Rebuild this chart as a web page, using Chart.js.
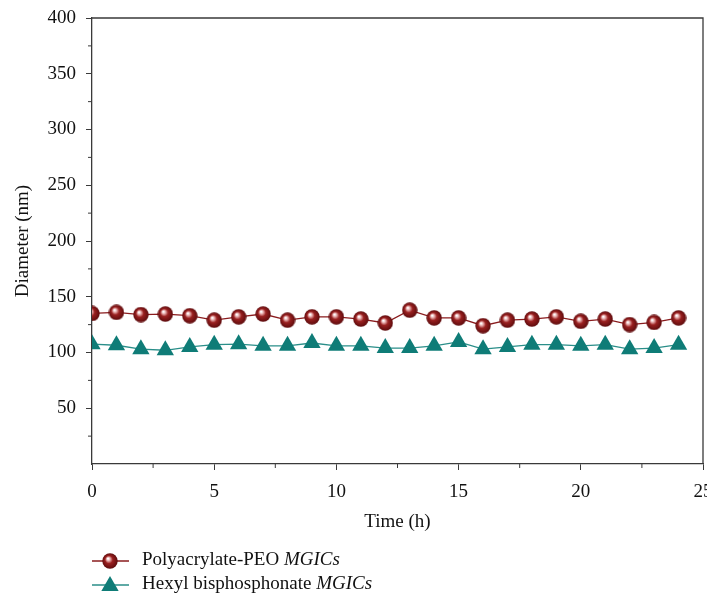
<!DOCTYPE html>
<html>
<head>
<meta charset="utf-8">
<script src="https://cdn.jsdelivr.net/npm/chart.js@4.4.1/dist/chart.umd.min.js"></script>
<style>
  html, body { margin: 0; padding: 0; background: #fff; overflow: hidden; }
  #wrap { width: 713px; height: 597px; }
</style>
</head>
<body>
<div id="wrap"><canvas id="graphique"></canvas></div>
<script>
// Données (heures, diamètre en nm)
const heures = [0, 1, 2, 3, 4, 5, 6, 7, 8, 9, 10, 11, 12, 13, 14, 15, 16, 17, 18, 19, 20, 21, 22, 23, 24];
const polyacrylatePEO = [135, 136, 134, 134.5, 133, 129, 132, 134.5, 129, 132, 132, 130, 126.5, 138, 131, 131, 124, 129, 130, 132, 128, 130, 125, 127, 131];
const hexylBisphosphonate = [107.5, 106.5, 103, 102, 105, 107, 107.5, 106, 106, 108.5, 106, 106, 104, 104, 106, 109.5, 103, 105, 107, 107, 106, 107, 103, 104, 107];
const ticksX = [0, 5, 10, 15, 20, 25];
const ticksY = [50, 100, 150, 200, 250, 300, 350, 400];

const POLICE = "'Liberation Serif', 'DejaVu Serif', serif";
const TAILLE = 19;
const ROUGE = '#8a1c1e';
const TEAL = '#0f7c77';
const AXE = '#3a3a3a';

function creerSphere(taille) {
    // Petite image de sphère rouge avec reflet, utilisée comme marqueur
    const c = document.createElement('canvas');
    c.width = taille; c.height = taille;
    const g = c.getContext('2d');
    const r = taille / 2;
    const grad = g.createRadialGradient(r * 0.75, r * 0.7, 0.5, r, r, r);
    grad.addColorStop(0, '#ffffff');
    grad.addColorStop(0.18, '#e8b0b0');
    grad.addColorStop(0.45, '#9a2020');
    grad.addColorStop(1, '#5a0a0c');
    g.fillStyle = grad;
    g.beginPath();
    g.arc(r, r, r - 0.3, 0, Math.PI * 2);
    g.fill();
    return c;
}
const sphere = creerSphere(16);

function dessinerTriangle(ctx, x, y, rayon) {
    ctx.beginPath();
    ctx.moveTo(x, y - rayon);
    ctx.lineTo(x + rayon * 0.866, y + rayon * 0.5);
    ctx.lineTo(x - rayon * 0.866, y + rayon * 0.5);
    ctx.closePath();
    ctx.fillStyle = TEAL;
    ctx.fill();
}

// Cadre, graduations secondaires et légende
const decorations = {
    id: 'decorations',
    afterDraw(chart) {
        const ctx = chart.ctx;
        const a = chart.chartArea;
        const sx = chart.scales.x;
        const sy = chart.scales.y;
        ctx.save();
        ctx.strokeStyle = AXE;
        ctx.lineWidth = 1.3;
        ctx.beginPath();
        ctx.moveTo(a.left, a.top);
        ctx.lineTo(a.right, a.top);
        ctx.lineTo(a.right, a.bottom);
        ctx.stroke();
        // graduations secondaires
        ctx.lineWidth = 1;
        for (let v = 2.5; v < 25; v += 5) {
            const px = sx.getPixelForValue(v);
            ctx.beginPath();
            ctx.moveTo(px, a.bottom);
            ctx.lineTo(px, a.bottom + 4);
            ctx.stroke();
        }
        for (let v = 25; v < 400; v += 50) {
            const py = sy.getPixelForValue(v);
            ctx.beginPath();
            ctx.moveTo(a.left, py);
            ctx.lineTo(a.left - 4, py);
            ctx.stroke();
        }
        // légende
        const items = chart.data.datasets;
        items.forEach((ds, i) => {
            const y = 561 + i * 24;
            ctx.strokeStyle = ds.borderColor;
            ctx.lineWidth = 1.3;
            ctx.beginPath();
            ctx.moveTo(92, y);
            ctx.lineTo(129, y);
            ctx.stroke();
            if (i === 0) {
                ctx.drawImage(sphere, 110 - 8, y - 8, 16, 16);
            } else {
                dessinerTriangle(ctx, 110, y + 1, 10);
            }
            ctx.fillStyle = '#111';
            ctx.textBaseline = 'middle';
            ctx.font = TAILLE + 'px ' + POLICE;
            ctx.fillText(ds.nomLegende, 142, y - 1);
            const w = ctx.measureText(ds.nomLegende).width;
            ctx.font = 'italic ' + TAILLE + 'px ' + POLICE;
            ctx.fillText('MGICs', 142 + w, y - 1);
        });
        ctx.restore();
    }
};

const ctx = document.getElementById('graphique').getContext('2d');
new Chart(ctx, {
    type: 'line',
    data: {
        labels: heures,
        datasets: [{
            label: 'Polyacrylate-PEO MGICs',
            nomLegende: 'Polyacrylate-PEO ',
            data: heures.map((h, i) => ({ x: h, y: polyacrylatePEO[i] })),
            borderColor: ROUGE,
            borderWidth: 1.3,
            pointStyle: sphere,
            pointRadius: 8,
            pointHoverRadius: 8,
            tension: 0,
        }, {
            label: 'Hexyl bisphosphonate MGICs',
            nomLegende: 'Hexyl bisphosphonate ',
            data: heures.map((h, i) => ({ x: h, y: hexylBisphosphonate[i] })),
            borderColor: '#2a8e89',
            borderWidth: 1.3,
            backgroundColor: TEAL,
            pointBackgroundColor: TEAL,
            pointBorderColor: TEAL,
            pointBorderWidth: 0,
            pointStyle: 'triangle',
            pointRadius: 10,
            tension: 0,
        }],
    },
    options: {
        responsive: true,
        maintainAspectRatio: false,
        animation: false,
        events: [],
        layout: { padding: { top: 18, right: 0, bottom: 57, left: 0 } },
        plugins: {
            legend: { display: false },
            tooltip: { enabled: false },
        },
        scales: {
            x: {
                type: 'linear',
                min: 0,
                max: 25,
                afterBuildTicks: (s) => { s.ticks = ticksX.map(v => ({ value: v })); },
                afterFit: (s) => { s.height = 76; s.paddingRight = 0; },
                ticks: {
                    color: '#111',
                    font: { family: POLICE, size: TAILLE },
                    padding: 11,
                    maxRotation: 0,
                },
                grid: {
                    drawOnChartArea: false,
                    drawTicks: true,
                    tickLength: 6,
                    color: AXE,
                    lineWidth: 1,
                },
                border: { color: AXE, width: 1.3 },
                title: {
                    display: true,
                    text: 'Time (h)',
                    color: '#111',
                    font: { family: POLICE, size: TAILLE },
                    padding: { top: 4, bottom: 6.5 },
                },
            },
            y: {
                min: 0,
                max: 400,
                afterBuildTicks: (s) => { s.ticks = ticksY.map(v => ({ value: v })); },
                afterFit: (s) => { s.width = 92; s.paddingTop = 0; },
                ticks: {
                    color: '#111',
                    font: { family: POLICE, size: TAILLE },
                    padding: 10,
                },
                grid: {
                    drawOnChartArea: false,
                    drawTicks: true,
                    tickLength: 6,
                    color: AXE,
                    lineWidth: 1,
                },
                border: { color: AXE, width: 1.3 },
                title: {
                    display: true,
                    text: 'Diameter (nm)',
                    color: '#111',
                    font: { family: POLICE, size: TAILLE },
                    padding: { top: 12, bottom: 12 },
                },
            },
        },
    },
    plugins: [decorations],
});
</script>
</body>
</html>
